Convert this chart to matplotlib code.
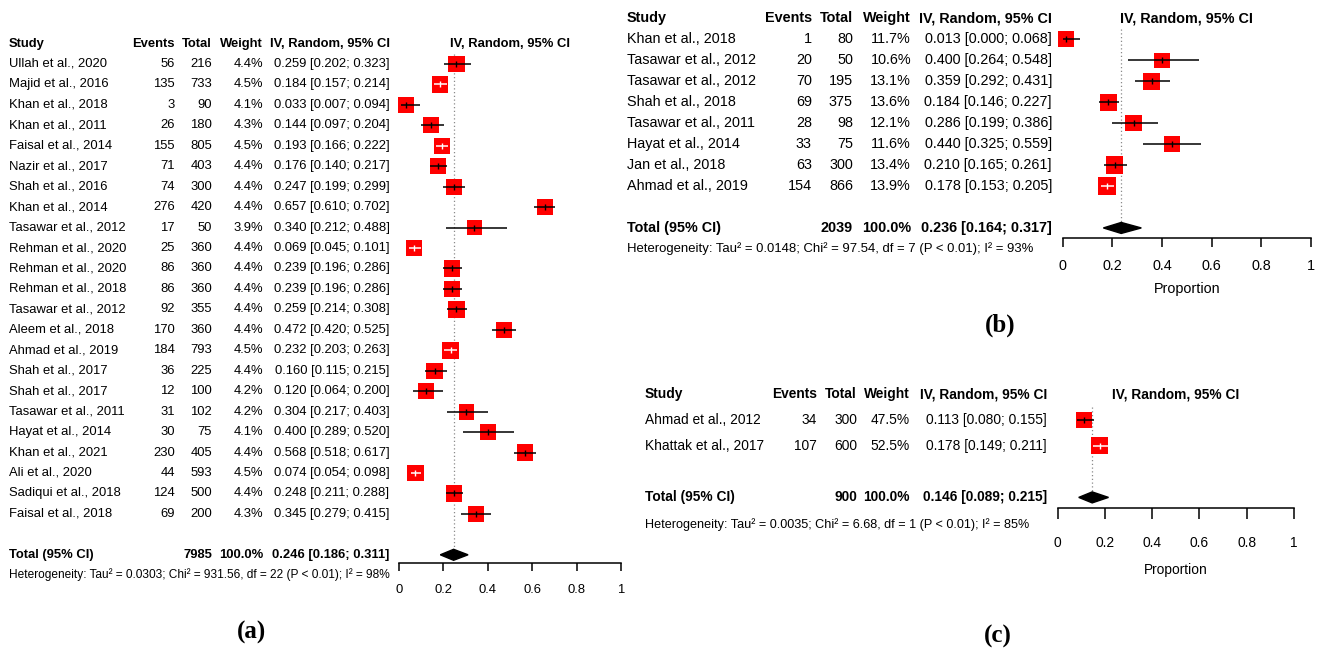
import numpy as np
import matplotlib
matplotlib.use("Agg")
import matplotlib.pyplot as plt
from matplotlib.transforms import blended_transform_factory

plt.rcParams['font.family'] = ['Liberation Sans', 'DejaVu Sans']

# ---- panel (a) ----
a_study = ["Ullah et al., 2020", "Majid et al., 2016", "Khan et al., 2018", "Khan et al., 2011",
           "Faisal et al., 2014", "Nazir et al., 2017", "Shah et al., 2016", "Khan et al., 2014",
           "Tasawar et al., 2012", "Rehman et al., 2020", "Rehman et al., 2020", "Rehman et al., 2018",
           "Tasawar et al., 2012", "Aleem et al., 2018", "Ahmad et al., 2019", "Shah et al., 2017",
           "Shah et al., 2017", "Tasawar et al., 2011", "Hayat et al., 2014", "Khan et al., 2021",
           "Ali et al., 2020", "Sadiqui et al., 2018", "Faisal et al., 2018"]
a_events = [56, 135, 3, 26, 155, 71, 74, 276, 17, 25, 86, 86, 92, 170, 184, 36, 12, 31, 30, 230, 44, 124, 69]
a_total = [216, 733, 90, 180, 805, 403, 300, 420, 50, 360, 360, 360, 355, 360, 793, 225, 100, 102, 75, 405, 593, 500, 200]
a_weight = [4.4, 4.5, 4.1, 4.3, 4.5, 4.4, 4.4, 4.4, 3.9, 4.4, 4.4, 4.4, 4.4, 4.4, 4.5, 4.4, 4.2, 4.2, 4.1, 4.4, 4.5, 4.4, 4.3]
a_est = [0.259, 0.184, 0.033, 0.144, 0.193, 0.176, 0.247, 0.657, 0.340, 0.069, 0.239, 0.239,
         0.259, 0.472, 0.232, 0.160, 0.120, 0.304, 0.400, 0.568, 0.074, 0.248, 0.345]
a_lo = [0.202, 0.157, 0.007, 0.097, 0.166, 0.140, 0.199, 0.610, 0.212, 0.045, 0.196, 0.196,
        0.214, 0.420, 0.203, 0.115, 0.064, 0.217, 0.289, 0.518, 0.054, 0.211, 0.279]
a_hi = [0.323, 0.214, 0.094, 0.204, 0.222, 0.217, 0.299, 0.702, 0.488, 0.101, 0.286, 0.286,
        0.308, 0.525, 0.263, 0.215, 0.200, 0.403, 0.520, 0.617, 0.098, 0.288, 0.415]
a_pooled = (7985, 0.246, 0.186, 0.311)
a_het = "Heterogeneity: Tau² = 0.0303; Chi² = 931.56, df = 22 (P < 0.01); I² = 98%"

# ---- panel (b) ----
b_study = ["Khan et al., 2018", "Tasawar et al., 2012", "Tasawar et al., 2012", "Shah et al., 2018",
           "Tasawar et al., 2011", "Hayat et al., 2014", "Jan et al., 2018", "Ahmad et al., 2019"]
b_events = [1, 20, 70, 69, 28, 33, 63, 154]
b_total = [80, 50, 195, 375, 98, 75, 300, 866]
b_weight = [11.7, 10.6, 13.1, 13.6, 12.1, 11.6, 13.4, 13.9]
b_est = [0.013, 0.400, 0.359, 0.184, 0.286, 0.440, 0.210, 0.178]
b_lo = [0.000, 0.264, 0.292, 0.146, 0.199, 0.325, 0.165, 0.153]
b_hi = [0.068, 0.548, 0.431, 0.227, 0.386, 0.559, 0.261, 0.205]
b_pooled = (2039, 0.236, 0.164, 0.317)
b_het = "Heterogeneity: Tau² = 0.0148; Chi² = 97.54, df = 7 (P < 0.01); I² = 93%"

# ---- panel (c) ----
c_study = ["Ahmad et al., 2012", "Khattak et al., 2017"]
c_events = [34, 107]
c_total = [300, 600]
c_weight = [47.5, 52.5]
c_est = [0.113, 0.178]
c_lo = [0.080, 0.149]
c_hi = [0.155, 0.211]
c_pooled = (900, 0.146, 0.089, 0.215)
c_het = "Heterogeneity: Tau² = 0.0035; Chi² = 6.68, df = 1 (P < 0.01); I² = 85%"

tick_vals = [0, 0.2, 0.4, 0.6, 0.8, 1]
tick_text = ["0", "0.2", "0.4", "0.6", "0.8", "1"]

W, H = 1321, 653
fig = plt.figure(figsize=(W / 100, H / 100), dpi=100)


def forest(study, events, total, weight, est, lo, hi, pooled, het, lay):
    n = len(study)
    rows = np.arange(n)
    tot_row = n + 1
    row0, pitch = lay['row0'], lay['pitch']
    x0, x1, ax_y = lay['x0'], lay['x1'], lay['axis_y']
    fs = lay['fs']

    top = row0 - pitch
    ax = fig.add_axes([x0 / W, 1 - ax_y / H, (x1 - x0) / W, (ax_y - top) / H])
    ax.set_xlim(0, 1)
    ax.set_ylim((ax_y - row0) / pitch, -1)
    ax.patch.set_visible(False)
    for s in ['left', 'right', 'top']:
        ax.spines[s].set_visible(False)
    ax.spines['bottom'].set_linewidth(1.1)
    ax.set_yticks([])
    ax.set_xticks(tick_vals)
    ax.set_xticklabels(tick_text)
    ax.tick_params(axis='x', length=lay['tick'] * 0.72, width=1.1, pad=lay['pad'], labelsize=fs)
    if lay['xlabel']:
        ax.set_xlabel(lay['xlabel'], fontsize=fs, labelpad=lay['labelpad'])

    tr = blended_transform_factory(fig.transFigure, ax.transData)
    c = lay['cols']

    # column headers
    hdr = dict(transform=tr, va='center', fontsize=fs, fontweight='bold')
    ax.text(c['study'] / W, -1, "Study", ha='left', **hdr)
    ax.text(c['events'] / W, -1, "Events", ha='right', **hdr)
    ax.text(c['total'] / W, -1, "Total", ha='right', **hdr)
    ax.text(c['weight'] / W, -1, "Weight", ha='right', **hdr)
    ax.text(c['ci'] / W, -1, "IV, Random, 95% CI", ha='right', **hdr)
    ax.text(0.5, -1, "IV, Random, 95% CI", ha='center', va='center', fontsize=fs, fontweight='bold')

    # study rows
    body = dict(transform=tr, va='center', fontsize=fs)
    for i in range(n):
        ax.text(c['study'] / W, i, study[i], ha='left', **body)
        ax.text(c['events'] / W, i, str(events[i]), ha='right', **body)
        ax.text(c['total'] / W, i, str(total[i]), ha='right', **body)
        ax.text(c['weight'] / W, i, f"{weight[i]:.1f}%", ha='right', **body)
        ax.text(c['ci'] / W, i, f"{est[i]:.3f} [{lo[i]:.3f}; {hi[i]:.3f}]", ha='right', **body)

    # pooled row
    tn, te, tl, th = pooled
    bold = dict(transform=tr, va='center', fontsize=fs, fontweight='bold')
    ax.text(c['study'] / W, tot_row, "Total (95% CI)", ha='left', **bold)
    ax.text(c['total'] / W, tot_row, str(tn), ha='right', **bold)
    ax.text(c['weight'] / W, tot_row, "100.0%", ha='right', **bold)
    ax.text(c['ci'] / W, tot_row, f"{te:.3f} [{tl:.3f}; {th:.3f}]", ha='right', **bold)
    ax.text(c['study'] / W, (lay['het_y'] - row0) / pitch, het, ha='left', va='center',
            transform=tr, fontsize=fs * lay['het_scale'])

    # squares sized by weight, CI drawn white when it fits inside the square
    w = np.array(weight)
    side = lay['sq'] * np.sqrt(w / w.max())
    half = side / 2 / (x1 - x0)
    e, l, h = np.array(est), np.array(lo), np.array(hi)
    inside = (l >= e - half) & (h <= e + half)
    ci_col = ['white' if k else 'black' for k in inside]

    ax.vlines(te, -0.5, tot_row - 0.2, colors='#8a8a8a', linestyles=(0, (1, 2)), lw=0.9, zorder=1)
    ax.scatter(e, rows, s=(side * 0.72) ** 2, marker='s', color='#ff0000', linewidths=0,
               zorder=3, clip_on=False)
    ax.hlines(rows, l, h, colors=ci_col, lw=1.1, zorder=4, clip_on=False)
    ax.scatter(e, rows, s=(6 * 0.72) ** 2, marker='|', c=ci_col, linewidths=1.0, zorder=5, clip_on=False)

    dh = 5.5 / pitch
    ax.fill([tl, te, th, te], [tot_row, tot_row - dh, tot_row, tot_row + dh], color='black',
            zorder=4, clip_on=False)

    fig.text(lay['tag'][0] / W, 1 - lay['tag'][1] / H, lay['tag'][2], ha='center', va='center',
             family='Liberation Serif', fontweight='bold', fontsize=18)
    return ax


lay_a = dict(row0=64, pitch=20.45, x0=399, x1=621, axis_y=563, fs=9.4, het_y=575, het_scale=0.91,
             sq=16.5, tick=8, pad=9.5, xlabel=None, labelpad=0,
             cols=dict(study=9, events=175, total=212, weight=263, ci=389.5),
             tag=(251, 632, "(a)"))
lay_b = dict(row0=39.3, pitch=20.96, x0=1062.7, x1=1310.7, axis_y=238, fs=10.4, het_y=248.5, het_scale=0.91,
             sq=17.5, tick=9, pad=8.5, xlabel="Proportion", labelpad=6.5,
             cols=dict(study=627, events=812, total=853, weight=911, ci=1052),
             tag=(1000, 325, "(b)"))
lay_c = dict(row0=420, pitch=25.8, x0=1057.7, x1=1294, axis_y=508.3, fs=9.9, het_y=525, het_scale=0.92,
             sq=17, tick=11, pad=12, xlabel="Proportion", labelpad=9.5,
             cols=dict(study=645, events=817, total=857, weight=910, ci=1047),
             tag=(998, 636, "(c)"))

forest(a_study, a_events, a_total, a_weight, a_est, a_lo, a_hi, a_pooled, a_het, lay_a)
forest(b_study, b_events, b_total, b_weight, b_est, b_lo, b_hi, b_pooled, b_het, lay_b)
forest(c_study, c_events, c_total, c_weight, c_est, c_lo, c_hi, c_pooled, c_het, lay_c)

fig.savefig("out.png", dpi=100)
